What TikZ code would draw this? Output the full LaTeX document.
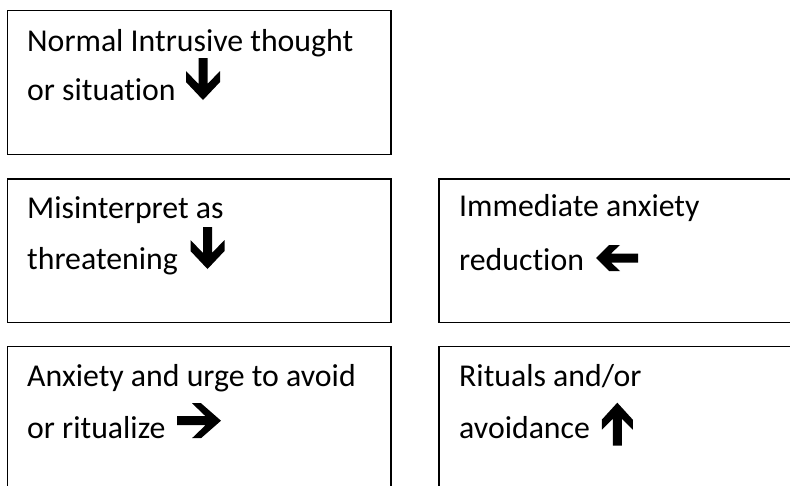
\documentclass[tikz,border=0pt]{standalone}
\usepackage{fontspec}
\setmainfont[Ligatures={NoCommon}]{Carlito}
\begin{document}
\begin{tikzpicture}[x=1pt,y=-1pt,
  box/.style={draw=black, line width=1.3pt, rectangle, inner sep=0pt, minimum height=143.5pt},
  lbl/.style={anchor=base west, inner sep=0pt, font=\fontsize{31.8}{32}\selectfont},
  blk/.style={fill=black}]
\useasboundingbox (0,0) rectangle (790,485);
\clip (0,0) rectangle (790,485);
\fill[white] (0,0) rectangle (790,485);
% boxes
\node[box, minimum width=383.5pt] (b1) at (199.25,82.5) {};
\node[box, minimum width=383.5pt] (b2) at (199.25,250.85) {};
\node[box, minimum width=361pt] (b3) at (619.5,250.85) {};
\node[box, minimum width=383.5pt] (b4) at (199.25,418.4) {};
\node[box, minimum width=361pt] (b5) at (619.5,418.4) {};
% texts
\node[lbl] (t1a) at (27,51) {Normal Intrusive thought};
\node[lbl] (t1b) at (27,100) {or situation};
\node[lbl] (t2a) at (27,218) {Misinterpret as};
\node[lbl] (t2b) at (27,269) {threatening};
\node[lbl] (t3a) at (459,216) {Immediate anxiety};
\node[lbl] (t3b) at (459,270) {reduction};
\node[lbl] (t4a) at (27,386) {Anxiety and urge to avoid};
\node[lbl] (t4b) at (27,438) {or ritualize};
\node[lbl] (t5a) at (459,386) {Rituals and/or};
\node[lbl] (t5b) at (459,438) {avoidance};
% down arrow box 1
\begin{scope}[shift={(203,100)}]
\fill[blk] (-4.5,-42) -- (4.5,-42) -- (4.5,-16) -- (17,-29) -- (17,-18) -- (0,0) -- (-17,-18) -- (-17,-29) -- (-4.5,-16) -- cycle;
\end{scope}
% down arrow box 2
\begin{scope}[shift={(207.5,269)}]
\fill[blk] (-4.5,-42) -- (4.5,-42) -- (4.5,-16) -- (17,-29) -- (17,-18) -- (0,0) -- (-17,-18) -- (-17,-29) -- (-4.5,-16) -- cycle;
\end{scope}
% left arrow box 3
\begin{scope}[shift={(596,258)}]
\fill[blk] (0,0) -- (13,-13) -- (24,-13) -- (15,-4.5) -- (42,-4.5) -- (42,4.5) -- (15,4.5) -- (24,13) -- (13,13) -- cycle;
\end{scope}
% right arrow box 4
\begin{scope}[shift={(221,420.7)}]
\fill[blk] (-44,-4.5) -- (-15.5,-4.5) -- (-29,-17.5) -- (-20,-17.5) -- (0,0) -- (-20,17.5) -- (-29,17.5) -- (-15.5,4.5) -- (-44,4.5) -- cycle;
\end{scope}
% up arrow box 5
\begin{scope}[shift={(617.3,402.7)}]
\fill[blk] (0,0) -- (15.5,17) -- (15.5,27) -- (4.5,16) -- (4.5,43) -- (-4.5,43) -- (-4.5,16) -- (-15.5,27) -- (-15.5,17) -- cycle;
\end{scope}
\end{tikzpicture}
\end{document}
